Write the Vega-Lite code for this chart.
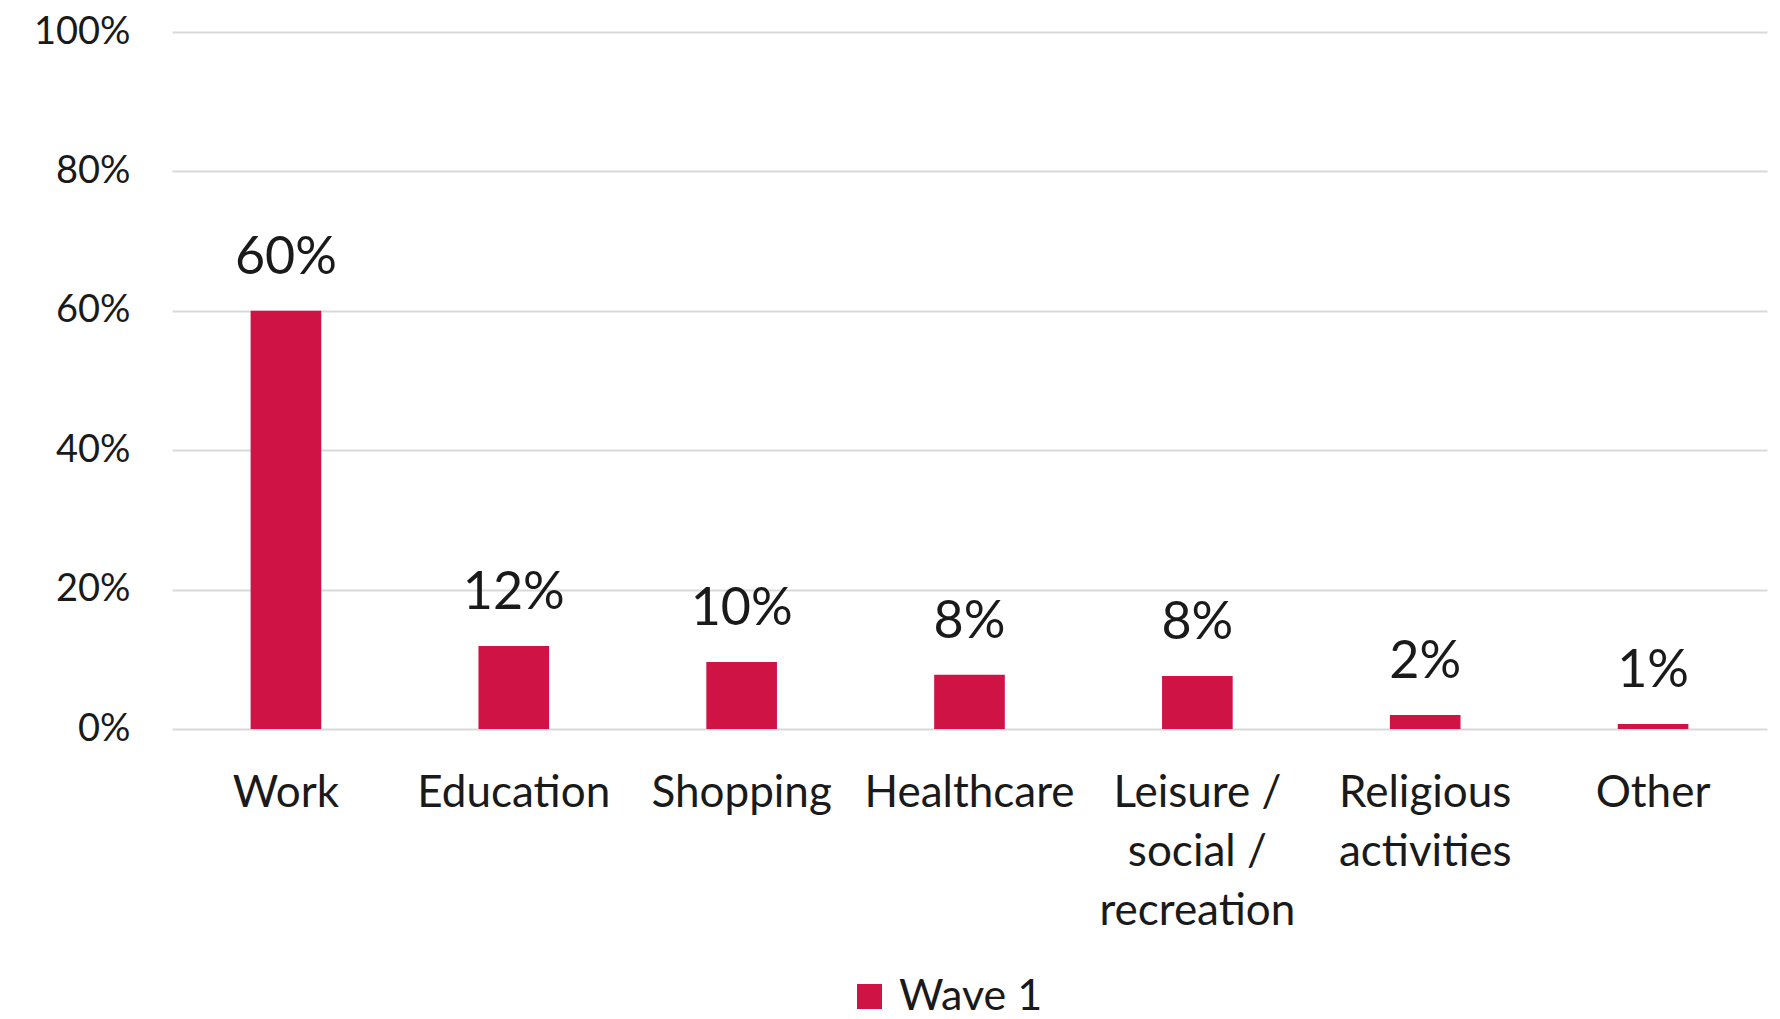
{
  "$schema": "https://vega.github.io/schema/vega-lite/v6.json",
  "width": 1595,
  "height": 697,
  "autosize": {"type": "none"},
  "padding": {"left": 172, "top": 32, "right": 13, "bottom": 290},
  "background": "white",
  "config": {
    "view": {"stroke": null},
    "font": "Lato",
    "text": {"font": "Lato"}
  },
  "data": {
    "values": [
      {"category": "Work", "value": 0.60, "series": "Wave 1"},
      {"category": "Education", "value": 0.119, "series": "Wave 1"},
      {"category": "Shopping", "value": 0.096, "series": "Wave 1"},
      {"category": "Healthcare", "value": 0.078, "series": "Wave 1"},
      {"category": "Leisure / social / recreation", "value": 0.076, "series": "Wave 1"},
      {"category": "Religious activities", "value": 0.02, "series": "Wave 1"},
      {"category": "Other", "value": 0.007, "series": "Wave 1"}
    ]
  },
  "encoding": {
    "x": {
      "field": "category",
      "type": "nominal",
      "sort": null,
      "scale": {"paddingInner": 0.69, "paddingOuter": 0.345},
      "axis": {
        "title": null,
        "labelAngle": 0,
        "domain": false,
        "ticks": false,
        "labelFont": "Lato",
        "labelFontSize": 44,
        "labelColor": "#1a1a1a",
        "labelPadding": 42,
        "labelLineHeight": 59,
        "labelLimit": 0,
        "labelOverlap": false,
        "labelExpr": "datum.label == 'Religious activities' ? ['Religious', 'activities'] : datum.label == 'Leisure / social / recreation' ? ['Leisure /', 'social /', 'recreation'] : datum.label"
      }
    },
    "y": {
      "field": "value",
      "type": "quantitative",
      "scale": {"domain": [0, 1], "nice": false},
      "axis": {
        "title": null,
        "values": [0, 0.2, 0.4, 0.6, 0.8, 1],
        "format": ".0%",
        "domain": false,
        "ticks": false,
        "grid": true,
        "gridColor": "#D9D9D9",
        "gridWidth": 2,
        "labelFont": "Lato",
        "labelFontSize": 38,
        "labelColor": "#1a1a1a",
        "labelPadding": 42
      }
    }
  },
  "layer": [
    {
      "mark": {"type": "bar"},
      "encoding": {
        "color": {
          "field": "series",
          "type": "nominal",
          "scale": {"range": ["#D01345"]},
          "legend": {
            "title": null,
            "orient": "none",
            "legendX": 676,
            "legendY": 943,
            "padding": 0,
            "symbolType": "square",
            "symbolSize": 625,
            "symbolStrokeWidth": 0,
            "labelFont": "Lato",
            "labelFontSize": 43,
            "labelColor": "#1a1a1a",
            "labelOffset": 8,
            "labelLimit": 0
          }
        }
      }
    },
    {
      "mark": {"type": "text", "baseline": "alphabetic", "dy": -37, "fontSize": 52, "color": "#1a1a1a", "font": "Lato"},
      "encoding": {
        "text": {"field": "value", "type": "quantitative", "format": ".0%"}
      }
    }
  ]
}
